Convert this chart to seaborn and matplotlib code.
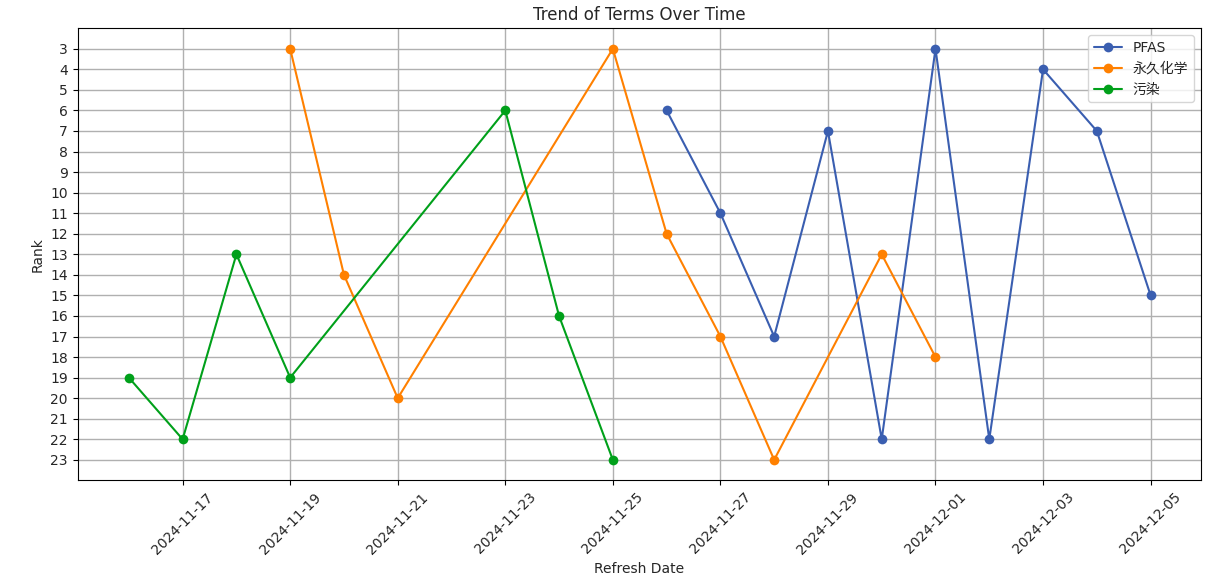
import matplotlib
matplotlib.use("Agg")
import matplotlib.pyplot as plt
import matplotlib.dates as mdates
import seaborn as sns
import pandas as pd

pfas_dates = ["2024-11-26","2024-11-27","2024-11-28","2024-11-29","2024-11-30","2024-12-01","2024-12-02","2024-12-03","2024-12-04","2024-12-05"]
pfas_ranks = [6,11,17,7,22,3,22,4,7,15]
t2_dates = ["2024-11-19","2024-11-20","2024-11-21","2024-11-25","2024-11-26","2024-11-27","2024-11-28","2024-11-30","2024-12-01"]
t2_ranks = [3,14,20,3,12,17,23,13,18]
t3_dates = ["2024-11-16","2024-11-17","2024-11-18","2024-11-19","2024-11-23","2024-11-24","2024-11-25"]
t3_ranks = [19,22,13,19,6,16,23]
terms = ["PFAS", "永久化学", "污染"]
colors = ["#3a5eb0", "#ff8000", "#00a01a"]

sns.set_theme(style="ticks")
plt.rcParams['font.family'] = ['DejaVu Sans', 'Noto Sans CJK SC']

fig, ax = plt.subplots(figsize=(12.14, 5.88), dpi=100)
for name, d, r, c in zip(terms, [pfas_dates, t2_dates, t3_dates], [pfas_ranks, t2_ranks, t3_ranks], colors):
    df = pd.DataFrame({"date": pd.to_datetime(d), "rank": r})
    sns.lineplot(data=df, x="date", y="rank", ax=ax, color=c, marker="o", markersize=7,
                 markeredgewidth=0, label=name, linewidth=1.5, sort=False)

ax.invert_yaxis()
ax.set_yticks(range(3, 24))
ax.set_ylim(24.0, 2.0)
ax.xaxis.set_major_locator(mdates.DayLocator(bymonthday=[17,19,21,23,25,27,29,1,3,5]))
ax.xaxis.set_major_formatter(mdates.DateFormatter("%Y-%m-%d"))
ax.set_xlim(pd.Timestamp("2024-11-15 01:10"), pd.Timestamp("2024-12-05 22:20"))
plt.setp(ax.get_xticklabels(), rotation=45)
ax.grid(True, color="#b0b0b0", linewidth=1)
for s in ax.spines.values():
    s.set_color("black"); s.set_linewidth(0.8)
ax.tick_params(labelsize=10, length=3.5, width=0.8, color="black")
ax.set_xlabel("Refresh Date", fontsize=10)
ax.set_ylabel("Rank", fontsize=10)
ax.set_title("Trend of Terms Over Time", fontsize=12)
ax.legend(loc="upper right", fontsize=10)
fig.subplots_adjust(left=0.064, right=0.989, top=0.952, bottom=0.183)
fig.savefig("out.png", dpi=100)
